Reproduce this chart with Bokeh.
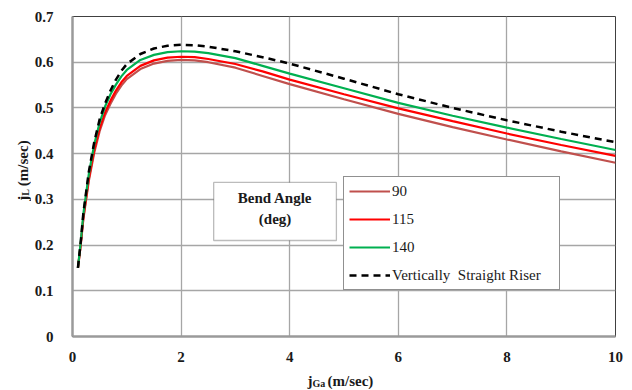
import math
from bokeh.plotting import figure
from bokeh.layouts import row, column
from bokeh.models import (ColumnDataSource, Legend, LegendItem, FixedTicker,
                          CustomJSTickFormatter, BoxAnnotation, Label, Range1d)
from bokeh.embed import file_html
from bokeh.resources import INLINE

# ---- data ----
jga = [0.1, 0.15, 0.2, 0.3, 0.4, 0.5, 0.6, 0.7, 0.8, 0.9, 1.0, 1.25, 1.5, 1.75,
       2.0, 2.25, 2.5, 3.0, 3.5, 4.0, 5.0, 6.0, 7.0, 8.0, 9.0, 10.0]
jl_90 = [0.150, 0.198, 0.257, 0.340, 0.402, 0.449, 0.484, 0.509, 0.531, 0.549, 0.563,
         0.585, 0.597, 0.603, 0.605, 0.604, 0.600, 0.588, 0.570, 0.552, 0.519,
         0.487, 0.458, 0.431, 0.405, 0.380]
jl_115 = [0.150, 0.200, 0.260, 0.345, 0.408, 0.455, 0.490, 0.516, 0.538, 0.556, 0.570,
          0.592, 0.604, 0.610, 0.612, 0.611, 0.607, 0.596, 0.580, 0.562, 0.530,
          0.499, 0.471, 0.444, 0.419, 0.395]
jl_140 = [0.150, 0.205, 0.268, 0.355, 0.420, 0.468, 0.503, 0.530, 0.551, 0.569, 0.583,
          0.605, 0.616, 0.622, 0.624, 0.623, 0.620, 0.609, 0.592, 0.575, 0.543,
          0.511, 0.483, 0.457, 0.432, 0.408]
jl_straight = [0.150, 0.205, 0.270, 0.360, 0.425, 0.475, 0.510, 0.538, 0.562, 0.581,
               0.596, 0.618, 0.630, 0.636, 0.638, 0.637, 0.634, 0.624, 0.611, 0.597,
               0.564, 0.530, 0.500, 0.473, 0.448, 0.425]

series_labels = ["90", "115", "140", "Vertically  Straight Riser"]
x_ticks = [0, 2, 4, 6, 8, 10]
y_ticks = [0, 0.1, 0.2, 0.3, 0.4, 0.5, 0.6, 0.7]

SERIF = "Liberation Serif"
INK = "#1a1a1a"

p = figure(width=601, height=364, output_backend="svg", toolbar_location=None,
           x_range=Range1d(0, 10), y_range=Range1d(0, 0.7),
           min_border_left=36, min_border_right=17, min_border_top=16,
           min_border_bottom=28)
p.background_fill_color = "white"
p.border_fill_color = "white"
p.outline_line_color = "#404040"
p.outline_line_width = 1

src = ColumnDataSource(dict(x=jga, a=jl_90, b=jl_115, c=jl_140, d=jl_straight))
r90 = p.line("x", "a", source=src, line_color="#C0504D", line_width=2.2)
r115 = p.line("x", "b", source=src, line_color="#FF0000", line_width=2.2)
r140 = p.line("x", "c", source=src, line_color="#00B050", line_width=2.2)
rst = p.line("x", "d", source=src, line_color="black", line_width=2.5, line_dash="7 5")

for ax in (p.xaxis[0], p.yaxis[0]):
    ax.axis_line_color = "#9a9a9a"
    ax.axis_line_width = 2.5
    ax.major_tick_line_color = None
    ax.minor_tick_line_color = None
    ax.major_label_text_font = SERIF
    ax.major_label_text_font_style = "bold"
    ax.major_label_text_font_size = "15px"
    ax.major_label_text_color = INK

p.xaxis.ticker = FixedTicker(ticks=x_ticks)
p.yaxis.ticker = FixedTicker(ticks=y_ticks)
p.yaxis.formatter = CustomJSTickFormatter(code="return tick == 0 ? '0' : tick.toFixed(1);")
p.xaxis.major_label_standoff = 9
p.yaxis.major_label_standoff = 13

p.xgrid.ticker = FixedTicker(ticks=x_ticks)
p.ygrid.ticker = FixedTicker(ticks=y_ticks)
for g in (p.xgrid[0], p.ygrid[0]):
    g.grid_line_color = "#a6a6a6"
    g.grid_line_width = 1.3

# ---- legend ----
legend = Legend(items=[LegendItem(label=series_labels[0], renderers=[r90]),
                       LegendItem(label=series_labels[1], renderers=[r115]),
                       LegendItem(label=series_labels[2], renderers=[r140]),
                       LegendItem(label=series_labels[3], renderers=[rst])],
                location=(271, 46))
legend.label_text_font = SERIF
legend.label_text_font_size = "15px"
legend.label_text_color = INK
legend.glyph_width = 41
legend.glyph_height = 18
legend.label_height = 18
legend.label_width = 162
legend.label_standoff = 2
legend.spacing = 10
legend.padding = 5
legend.margin = 0
legend.border_line_color = "#222222"
legend.border_line_width = 1.3
legend.background_fill_color = "white"
legend.background_fill_alpha = 1
p.add_layout(legend, "center")

# ---- "Bend Angle (deg)" box ----
p.add_layout(BoxAnnotation(left=2.6, right=4.86, bottom=0.21, top=0.337,
                           fill_color="white", fill_alpha=1,
                           line_color="#222222", line_width=1.3))
for txt, yy in (("Bend Angle", 0.302), ("(deg)", 0.258)):
    p.add_layout(Label(x=3.73, y=yy, text=txt, text_align="center",
                       text_baseline="middle", text_font=SERIF,
                       text_font_style="bold", text_font_size="15px",
                       text_color=INK))

common = dict(text_font=SERIF, text_font_style="bold", text_color=INK,
              text_baseline="middle")

# ---- y title: j_L (m/sec), rotated, in a narrow strip on the left ----
ylab = figure(width=31, height=364, output_backend="svg", toolbar_location=None,
              x_range=Range1d(0, 31), y_range=Range1d(364, 0),
              min_border=0, outline_line_color=None)
ylab.axis.visible = False
ylab.grid.visible = False
ylab.add_layout(Label(x=22, y=204, text="j", text_align="right", angle=math.pi / 2,
                      text_font_size="15px", **common))
ylab.add_layout(Label(x=25, y=204, text="L", text_align="left", angle=math.pi / 2,
                      text_font_size="10px", **common))
ylab.add_layout(Label(x=22, y=193, text="(m/sec)", text_align="left", angle=math.pi / 2,
                      text_font_size="15px", **common))

# ---- x title: j_Ga (m/sec), in a strip below ----
xlab = figure(width=632, height=25, output_backend="svg", toolbar_location=None,
              x_range=Range1d(0, 632), y_range=Range1d(25, 0),
              min_border=0, outline_line_color=None)
xlab.axis.visible = False
xlab.grid.visible = False
xlab.add_layout(Label(x=312, y=16, text="j", text_align="right",
                      text_font_size="15px", **common))
xlab.add_layout(Label(x=312, y=19, text="Ga", text_align="left",
                      text_font_size="10px", **common))
xlab.add_layout(Label(x=327, y=16, text="(m/sec)", text_align="left",
                      text_font_size="15px", **common))

layout = column(row(ylab, p, spacing=0), xlab, spacing=0)
open("out.html", "w").write(file_html(layout, INLINE))
